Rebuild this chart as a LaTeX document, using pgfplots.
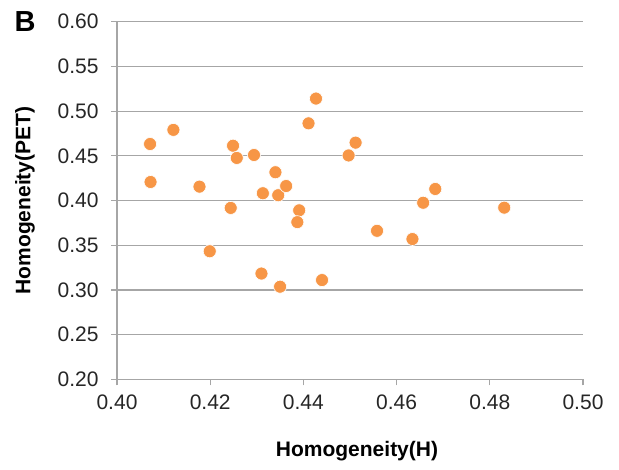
\documentclass[border=0pt]{standalone}
\usepackage{pgfplots}
\pgfplotsset{compat=1.18}
\usepackage{fontspec}
\setmainfont{Liberation Sans}
\definecolor{dotor}{HTML}{F79646}
\definecolor{gridg}{HTML}{A6A6A6}
\begin{document}
\begin{tikzpicture}
\useasboundingbox (-117pt,-89.7pt) rectangle (502pt,379.3pt);
\begin{axis}[
  scale only axis,
  width=466pt, height=357.6pt,
  at={(0,0)}, anchor=south west,
  xmin=0.40, xmax=0.50, ymin=0.20, ymax=0.60,
  xtick={0.40,0.42,...,0.50}, ytick={0.20,0.25,...,0.60},
  axis x line*=bottom, axis y line*=left,
  axis line style={gridg, line width=1.2pt, -},
  ymajorgrids, major grid style={gridg, line width=1.2pt},
  tick style={gridg, line width=1.2pt},
  tick align=outside, major tick length=6pt,
  /pgf/number format/assume math mode=true,
  /pgf/number format/.cd, fixed, fixed zerofill, precision=2, /pgfplots/.cd,
  ticklabel style={font=\fontsize{21}{24}\selectfont, text=black!85},
  xticklabel style={yshift=-6pt},
  yticklabel style={xshift=-9pt},
  xlabel={\textbf{Homogeneity(H)}},
  ylabel={\textbf{Homogeneity(PET)}},
  xlabel style={font=\fontsize{21}{24}\selectfont, at={(axis description cs:0.515,-0.2008)}, anchor=center},
  ylabel style={font=\fontsize{21}{24}\selectfont, at={(axis description cs:-0.1974,0.5)}, anchor=center},
  clip=false,
]
\addplot[only marks, mark=*, mark size=6.5pt, mark options={fill=dotor, draw=white, line width=0.6pt}] coordinates {
(0.4071,0.4632) (0.4072,0.4207) (0.4121,0.4790) (0.4177,0.4155)
(0.4199,0.3432) (0.4244,0.3917) (0.4249,0.4613) (0.4257,0.4476)
(0.4294,0.4509) (0.4313,0.4081) (0.4310,0.3183) (0.4340,0.4316)
(0.4346,0.4059) (0.4363,0.4162) (0.4350,0.3036) (0.4391,0.3890)
(0.4387,0.3758) (0.4411,0.4863) (0.4427,0.5140) (0.4440,0.3110)
(0.4497,0.4504) (0.4512,0.4647) (0.4558,0.3661) (0.4634,0.3569)
(0.4657,0.3975) (0.4683,0.4129) (0.4831,0.3920)
};
\end{axis}
\node[font=\fontsize{29}{32}\selectfont\bfseries] at (-92pt,357.8pt) {B};
\end{tikzpicture}
\end{document}
